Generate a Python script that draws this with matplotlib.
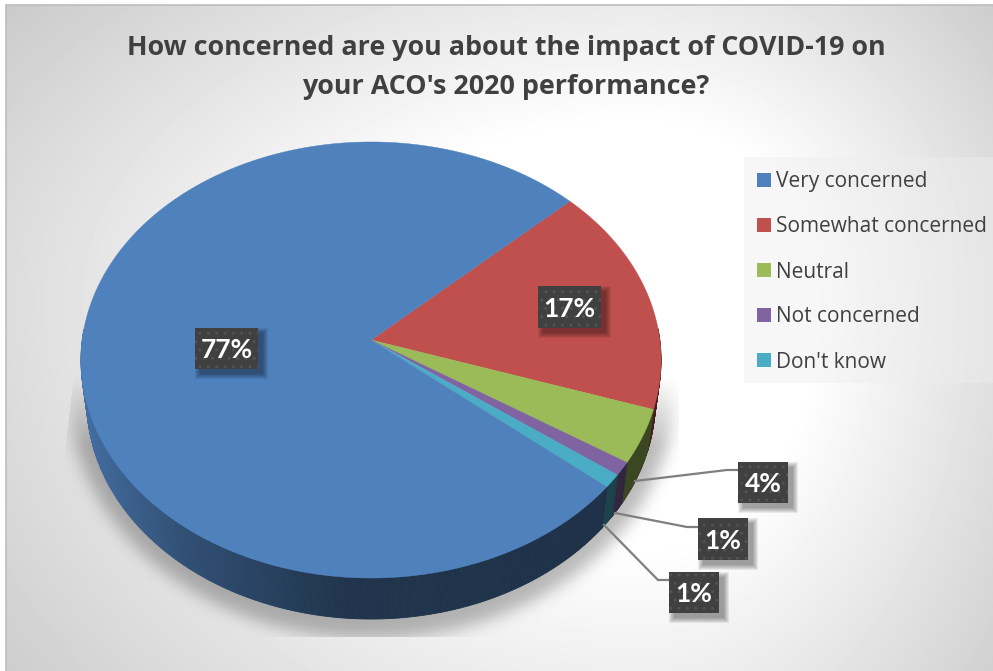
import numpy as np
import matplotlib
matplotlib.use("Agg")
import matplotlib.pyplot as plt
from matplotlib.patches import Rectangle

title_lines = ["How concerned are you about the impact of COVID-19 on", "your ACO's 2020 performance?"]
categories = ["Very concerned", "Somewhat concerned", "Neutral", "Not concerned", "Don't know"]
values = [77, 17, 4, 1, 1]
labels = ["77%", "17%", "4%", "1%", "1%"]
colors = ["#4f81bd", "#c0504d", "#9bbb59", "#8064a2", "#4bacc6"]

W, H = 993, 671
# pie geometry in pixels
cx, cy = 371, 340
rx, ry, persp = 288.8, 216.2, 0.0917
depth, shrink = 41, 0.98
red_start = 43.0  # angle where the red slice starts


def project(ang, r=1.0, bottom=False):
    a = np.radians(ang)
    X = r * np.cos(a)
    Y = -r * np.sin(a)  # Y grows towards the viewer
    px = rx * X / (1 - persp * Y)
    py = ry * Y / (1 - persp * Y)
    if bottom:
        return cx + shrink * px, cy + py + depth
    return cx + px, cy + py


def blur(img, sigma):
    n = int(sigma * 3)
    k = np.exp(-0.5 * (np.arange(-n, n + 1) / sigma) ** 2)
    k /= k.sum()
    img = np.apply_along_axis(lambda v: np.convolve(v, k, mode="same"), 0, img)
    return np.apply_along_axis(lambda v: np.convolve(v, k, mode="same"), 1, img)


# background gradient + soft shadow under the pie
yy, xx = np.mgrid[0:H, 0:W].astype(float)
dx = (xx - 640) / np.where(xx < 640, 1.7, 1.0)
dy = (yy - 300) / np.where(yy > 300, 1.4, 1.0)
bg = np.clip(255 - 0.176 * np.maximum(np.hypot(dx, dy) - 175, 0), 0, 255)

mask = (((xx - 371) / 303.0) ** 2 + ((yy - 390) / 248.0) ** 2 < 1).astype(float)
shadow = blur(mask, 8)
shadow *= np.clip((yy - 375) / 70, 0, 1)
shadow *= (xx > 62 + (470 - np.minimum(yy, 470)) * 0.12) & (xx < 679) & (yy < 637)
bg = bg * (1 - 0.27 * shadow)

fig = plt.figure(figsize=(W / 100, H / 100), dpi=100, facecolor="white")
ax = fig.add_axes([0, 0, 1, 1])
ax.set_xlim(0, W)
ax.set_ylim(H, 0)
ax.axis("off")
ax.imshow(bg[5:, 6:], extent=(6, W, H, 5), cmap="gray", vmin=0, vmax=255, aspect="auto", zorder=0)
ax.plot([6, 6, W], [H, 5, 5], color="#bdbdbd", lw=1.2, zorder=1)

# slice angles, running clockwise from the red slice; blue wraps round the back
order = [1, 2, 3, 4, 0]
ang = red_start
slices = {}
for i in order:
    sweep = values[i] / sum(values) * 360
    slices[i] = (ang, ang - sweep)
    ang -= sweep

# side wall, drawn as thin strips shaded by horizontal position
for i in order:
    a0, a1 = slices[i]
    steps = np.arange(a0, a1 - 0.5, -0.5)
    steps = np.append(steps, a1)
    for s0, s1 in zip(steps[:-1], steps[1:]):
        if np.sin(np.radians((s0 + s1) / 2)) > 0.05:
            continue
        x0, y0 = project(s0)
        x1, y1 = project(s1)
        x2, y2 = project(s1, bottom=True)
        x3, y3 = project(s0, bottom=True)
        shade = np.interp((x0 + x1) / 2, [85, 110, 180, 300, 345, 600], [0.85, 0.78, 0.62, 0.46, 0.41, 0.38])
        rgb = np.array(matplotlib.colors.to_rgb(colors[i])) * shade
        ax.fill([x0, x1, x2, x3], [y0, y1, y2, y3], color=rgb, lw=0.6, zorder=2)

# top face
for i in order:
    a0, a1 = slices[i]
    t = np.linspace(a0, a1, 300)
    px, py = project(t)
    ax.fill(np.r_[cx, px], np.r_[cy, py], color=colors[i], lw=0.3, zorder=3)

# title
for line, y in zip(title_lines, [48, 87]):
    ax.text(506, y, line, ha="center", va="center", fontsize=19.4, fontweight="bold",
            family="Open Sans", color="#404040", zorder=6)

# legend
ax.add_patch(Rectangle((744, 157), 249, 226, facecolor="#eeeeee", alpha=0.45, lw=0, zorder=4))
for n, (cat, col) in enumerate(zip(categories, colors)):
    y = 180 + 45 * n
    ax.add_patch(Rectangle((757, y - 7), 14, 14, facecolor=col, lw=0, zorder=5))
    ax.text(776, y + 2, cat, ha="left", va="center", fontsize=15, family="Open Sans",
            color="#404040", zorder=6)

# data labels: box left, top, right, bottom
boxes = [(195, 328, 258, 369), (538, 286, 601, 328), (738, 462, 788, 503),
         (698, 518, 748, 560), (669, 572, 719, 613)]
leaders = [None, None,
           ([635, 727, 738], [481, 470, 470]),
           ([615, 687, 698], [513, 527, 527]),
           ([604, 658, 669], [525, 580, 580])]
for text, box, lead in zip(labels, boxes, leaders):
    x0, y0, x1, y1 = box
    if lead:
        ax.plot(lead[0], lead[1], color="#7f7f7f", lw=1.6, zorder=4, solid_joinstyle="miter")
    for g in range(6, 0, -1):
        ax.add_patch(Rectangle((x0 + 6 - g, y0 + 6 - g), x1 - x0 + 2 * g - 2, y1 - y0 + 2 * g - 2,
                               facecolor="black", alpha=0.07, lw=0, zorder=5))
    ax.add_patch(Rectangle((x0, y0), x1 - x0, y1 - y0, facecolor="#404040", edgecolor="#525252",
                           hatch="..", lw=0, zorder=6))
    ax.text((x0 + x1) / 2, (y0 + y1) / 2 + 2, text, ha="center", va="center", color="white",
            fontsize=19, fontweight="bold", family="Lato", zorder=7)

fig.savefig("out.png", dpi=100, facecolor="white")
